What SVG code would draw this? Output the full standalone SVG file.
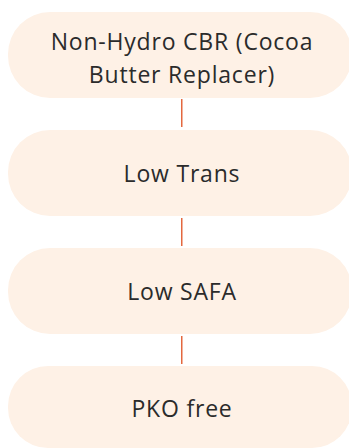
<svg xmlns="http://www.w3.org/2000/svg" width="349" height="448" viewBox="0 0 349 448">
<style>
.node{fill:#fef1e6;}
.lbl{font-family:"Open Sans","Noto Sans",sans-serif;font-weight:400;font-size:23px;letter-spacing:0.8px;fill:#2b2b2b;text-anchor:middle;}
.conn{stroke:#e4683f;stroke-width:1.5;fill:none;}
</style>
<rect width="349" height="448" fill="#ffffff"/>
<g id="connectors">
<line class="conn" x1="181.75" y1="99" x2="181.75" y2="127"/>
<line class="conn" x1="181.75" y1="218" x2="181.75" y2="246"/>
<line class="conn" x1="181.75" y1="336" x2="181.75" y2="364"/>
</g>
<g id="node1">
<rect class="node" x="8" y="12" width="344" height="86" rx="42" ry="42"/>
<text class="lbl" x="182" y="50">Non-Hydro CBR (Cocoa</text>
<text class="lbl" x="182" y="83">Butter Replacer)</text>
</g>
<g id="node2">
<rect class="node" x="8" y="130" width="344" height="86" rx="42" ry="42"/>
<text class="lbl" x="182" y="181.5">Low Trans</text>
</g>
<g id="node3">
<rect class="node" x="8" y="248" width="344" height="86" rx="42" ry="42"/>
<text class="lbl" x="182" y="299.5">Low SAFA</text>
</g>
<g id="node4">
<rect class="node" x="8" y="366" width="344" height="82" rx="40" ry="40"/>
<text class="lbl" x="182" y="417">PKO free</text>
</g>
</svg>
